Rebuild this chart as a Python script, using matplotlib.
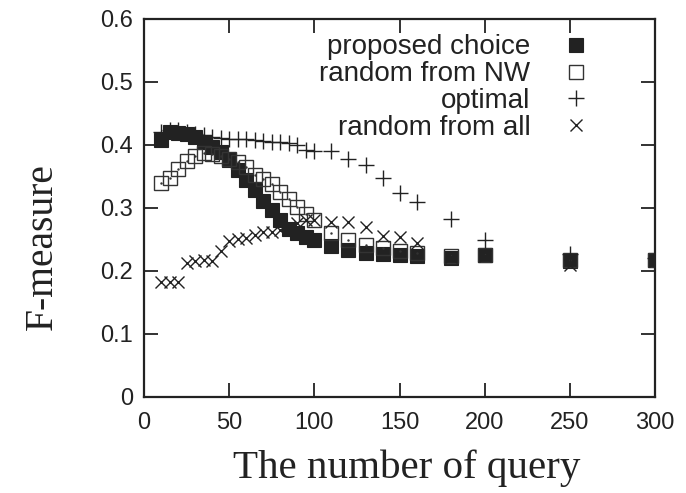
import numpy as np
import matplotlib
matplotlib.use('Agg')
import matplotlib.pyplot as plt

# x values (number of query) shared by all series
queries = [10, 15, 20, 25, 30, 35, 40, 45, 50, 55, 60, 65, 70, 75, 80, 85, 90, 95, 100,
           110, 120, 130, 140, 150, 160, 180, 200, 250, 300]

# F-measure
proposed = [0.408, 0.420, 0.419, 0.417, 0.413, 0.405, 0.397, 0.388, 0.376, 0.360,
            0.345, 0.329, 0.311, 0.296, 0.281, 0.267, 0.260, 0.254, 0.249,
            0.239, 0.233, 0.229, 0.227, 0.225, 0.224, 0.221, 0.225, 0.216, 0.217]
random_nw = [0.340, 0.348, 0.362, 0.375, 0.383, 0.387, 0.385, 0.382, 0.378, 0.373,
             0.365, 0.352, 0.346, 0.338, 0.326, 0.314, 0.302, 0.290, 0.281,
             0.260, 0.249, 0.241, 0.236, 0.232, 0.229, 0.224, 0.226, 0.218, 0.218]
optimal = [0.420, 0.424, 0.424, 0.421, 0.418, 0.415, 0.413, 0.411, 0.410, 0.410,
           0.409, 0.408, 0.407, 0.405, 0.404, 0.403, 0.400, 0.392, 0.390,
           0.390, 0.377, 0.368, 0.347, 0.324, 0.310, 0.282, 0.249, 0.227, 0.220]
random_all = [0.183, 0.183, 0.183, 0.212, 0.215, 0.217, 0.215, 0.231, 0.247, 0.250,
              0.252, 0.257, 0.261, 0.262, 0.265, 0.270, 0.276, 0.281, 0.281,
              0.278, 0.278, 0.269, 0.256, 0.254, 0.244, 0.222, 0.224, 0.210, 0.215]

sans = 'Liberation Sans'
serif = 'Liberation Serif'

fig = plt.figure(figsize=(6.86, 4.93), dpi=100)
ax = fig.add_axes([0.21, 0.195, 0.745, 0.7665])

ax.plot(queries, proposed, ls='none', marker='s', ms=10, mfc='#222222', mec='#222222',
        mew=0.8, label='proposed choice')
ax.plot(queries, random_nw, ls='none', marker='s', ms=10, mfc='none', mec='#333333',
        mew=1.0, label='random from NW')
ax.plot(queries, random_nw, ls='none', marker='.', ms=1.5, color='#333333')
ax.plot(queries, optimal, ls='none', marker='+', ms=11, mec='#222222', mew=1.0,
        label='optimal')
ax.plot(queries, random_all, ls='none', marker='x', ms=9, mec='#222222', mew=1.0,
        label='random from all')

ax.set_xlim(0, 300)
ax.set_ylim(0, 0.6)
ax.set_xticks(np.arange(0, 301, 50))
ax.set_yticks(np.arange(0, 0.61, 0.1))
ax.set_yticklabels(['0', '0.1', '0.2', '0.3', '0.4', '0.5', '0.6'])

ax.tick_params(direction='in', length=10, width=1.3, top=True, right=True,
               labelsize=17, color='#222222', labelcolor='#222222')
ax.tick_params(axis='x', pad=11)
ax.tick_params(axis='y', pad=8)
for lab in ax.get_xticklabels() + ax.get_yticklabels():
    lab.set_fontfamily(sans)
for sp in ax.spines.values():
    sp.set_linewidth(1.6)
    sp.set_color('#222222')

ax.set_xlabel('The number of query', fontsize=29.5, family=serif, color='#222222', labelpad=11)
ax.xaxis.label.set_x(0.514)
ax.set_ylabel('F-measure', fontsize=28.5, family=serif, color='#222222')
ax.yaxis.set_label_coords(-0.162, 0.397)

leg = ax.legend(loc='upper right', bbox_to_anchor=(0.873, 0.959), frameon=False,
                markerfirst=False, borderpad=0, borderaxespad=0, handlelength=1,
                handletextpad=1.15, labelspacing=0.03,
                prop={'family': sans, 'size': 20})
for t in leg.get_texts():
    t.set_color('#222222')

fig.savefig('out.png', dpi=100)
